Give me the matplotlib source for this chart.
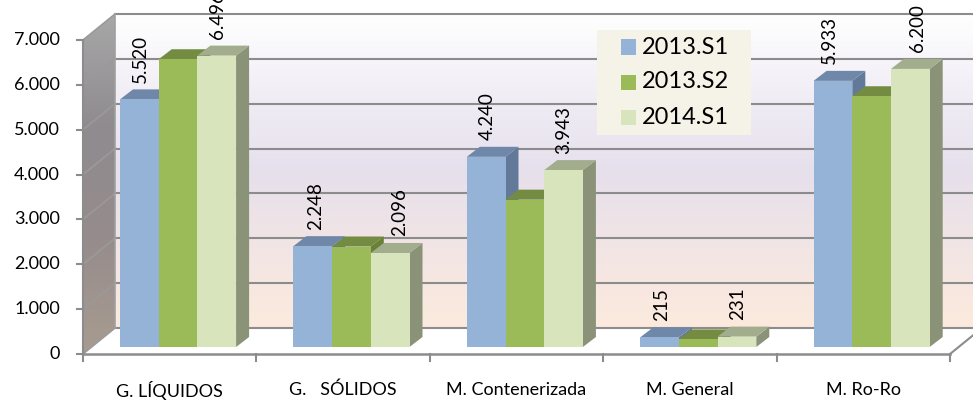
import numpy as np
import matplotlib
matplotlib.use('Agg')
import matplotlib.pyplot as plt
from matplotlib.colors import LinearSegmentedColormap
from matplotlib.patches import Polygon, Rectangle

categories = ['G. LÍQUIDOS', 'G.   SÓLIDOS', 'M. Contenerizada', 'M. General', 'M. Ro-Ro']
series_names = ['2013.S1', '2013.S2', '2014.S1']
s2013_1 = [5520, 2248, 4240, 215, 5933]
s2013_2 = [6415, 2240, 3285, 170, 5590]
s2014_1 = [6496, 2096, 3943, 231, 6200]
labels_1 = ['5.520', '2.248', '4.240', '215', '5.933']
labels_3 = ['6.496', '2.096', '3.943', '231', '6.200']
yticks = [0, 1000, 2000, 3000, 4000, 5000, 6000, 7000]
ytick_labels = ['0', '1.000', '2.000', '3.000', '4.000', '5.000', '6.000', '7.000']

front = ['#95B3D7', '#9BBB59', '#D8E4BC']
top = ['#6F87A8', '#748C42', '#A2AD8D']
side = ['#62799A', '#6A8039', '#8A9378']
# labels were moved by hand in the original, pixel nudge from the bar centre
nudge_1 = [1.5, 3, 1, 2, -3.5]
nudge_3 = [1, 9, 0.5, 1, 7]

plt.rcParams['font.family'] = ['Lato', 'DejaVu Sans']
fig = plt.figure(figsize=(9.73, 4.01), dpi=100)
# axes box = front plane of the 3d chart
ax = fig.add_axes([83 / 973, (401 - 354) / 401, 867 / 973, 314 / 401])
ax.set_xlim(0, 5)
ax.set_ylim(0, 7000)
ax.axis('off')

# pixel sizes turned into data units
px = 5 / 867
py = 7000 / 314
wall_dx, wall_dy = 32 * px, 26 * py
depth_dx, depth_dy = 13 * px, 10 * py
bar_w = 38.7 * px
bar_start = 37 * px
bar_base = 7 * py

# back wall gradient
wall_cm = LinearSegmentedColormap.from_list('wall', ['#FFFFFF', '#F1EEF6', '#E6E0EC', '#F2E5E4', '#FCEADD'])
ax.imshow(np.linspace(0, 1, 256).reshape(-1, 1), cmap=wall_cm, aspect='auto', origin='upper',
          extent=[wall_dx, 5 + wall_dx, wall_dy, 7000 + wall_dy], clip_on=False, zorder=0)

# left wall gradient, clipped to the parallelogram
side_cm = LinearSegmentedColormap.from_list('side', ['#A8A8A8', '#8F8B8F', '#968C8C', '#A89C90'])
im = ax.imshow(np.linspace(0, 1, 256).reshape(-1, 1), cmap=side_cm, aspect='auto', origin='upper',
               extent=[0, wall_dx, 0, 7000 + wall_dy], zorder=1)
clip = Polygon([(0, 0), (wall_dx, wall_dy), (wall_dx, 7000 + wall_dy), (0, 7000)], transform=ax.transData,
               facecolor='none', edgecolor='none', clip_on=False)
ax.add_patch(clip)
# image is cut to its clip box first, so that has to be the whole figure
im.set_clip_box(fig.bbox)
im.set_clip_path(clip)
ax.set_xlim(0, 5)
ax.set_ylim(0, 7000)

# floor
ax.add_patch(Polygon([(0, 0), (wall_dx, wall_dy), (5 + wall_dx, wall_dy), (5, 0)], facecolor='white',
                     edgecolor='none', zorder=1, clip_on=False))

grid = '#8C8C8C'
for v, lab in zip(yticks, ytick_labels):
    ax.plot([wall_dx, 5 + wall_dx], [v + wall_dy, v + wall_dy], color=grid, lw=1.5, zorder=2, clip_on=False)
    ax.plot([0, wall_dx], [v, v + wall_dy], color='#9A9A9A', lw=1.2, zorder=2, clip_on=False)
    ax.plot([-6 * px, 0], [v, v], color=grid, lw=1.5, zorder=2, clip_on=False)
    ax.text(-23 * px, v, lab, ha='right', va='center', fontsize=13, color='black')
ax.plot([wall_dx, wall_dx], [wall_dy, 7000 + wall_dy], color='#A0A0A0', lw=1.2, zorder=2, clip_on=False)
ax.plot([0, 0], [0, 7000], color=grid, lw=1.5, zorder=2, clip_on=False)
ax.plot([0, 5], [0, 0], color=grid, lw=1.8, zorder=2, clip_on=False)
ax.plot([5, 5 + wall_dx], [0, wall_dy], color=grid, lw=1.5, zorder=2, clip_on=False)
for i in range(6):
    ax.plot([i, i], [0, -7 * py], color=grid, lw=1.5, zorder=2, clip_on=False)

# bars, drawn left to right so each one covers the side of the previous
all_series = [s2013_1, s2013_2, s2014_1]
z = 3
for c in range(len(categories)):
    for s, values in enumerate(all_series):
        x0 = c + bar_start + s * bar_w
        x1 = x0 + bar_w
        y1 = bar_base + values[c]
        ax.add_patch(Polygon([(x1, bar_base), (x1 + depth_dx, bar_base + depth_dy),
                              (x1 + depth_dx, y1 + depth_dy), (x1, y1)],
                             facecolor=side[s], edgecolor='none', zorder=z, clip_on=False))
        ax.add_patch(Polygon([(x0, y1), (x0 + depth_dx, y1 + depth_dy),
                              (x1 + depth_dx, y1 + depth_dy), (x1, y1)],
                             facecolor=top[s], edgecolor='none', zorder=z, clip_on=False))
        ax.bar(x0, values[c], width=bar_w, bottom=bar_base, align='edge', color=front[s], zorder=z + 0.5,
               clip_on=False)
        z += 1

# value labels, only first and last series have them
for c in range(len(categories)):
    for s, labels, nudge in [(0, labels_1, nudge_1), (2, labels_3, nudge_3)]:
        xc = c + bar_start + (s + 0.5) * bar_w + nudge[c] * px
        ax.text(xc, bar_base + all_series[s][c] + 16.5 * py, labels[c], rotation=90, ha='center', va='bottom',
                fontsize=13.5, color='black', zorder=40, clip_on=False)

for i, name in enumerate(categories):
    ax.text(i + 0.5, -36 * py, name, ha='center', va='center', fontsize=13, color='black')

# legend drawn by hand inside a beige box
ax.add_patch(Rectangle(((597 - 83) * px, 7000 - (135 - 40) * py), 154 * px, 105 * py,
                       facecolor='#F5F3E8', edgecolor='none', zorder=50, clip_on=False))
for i, name in enumerate(series_names):
    yc = 7000 - (7 + 35 * i) * py
    ax.add_patch(Rectangle(((621 - 83) * px, yc - 7.5 * py), 15 * px, 15 * py, facecolor=front[i],
                           edgecolor='none', zorder=51, clip_on=False))
    ax.text((642 - 83) * px, yc, name, ha='left', va='center', fontsize=17, color='black', zorder=52)

fig.savefig('out.png', dpi=100, facecolor='white')
